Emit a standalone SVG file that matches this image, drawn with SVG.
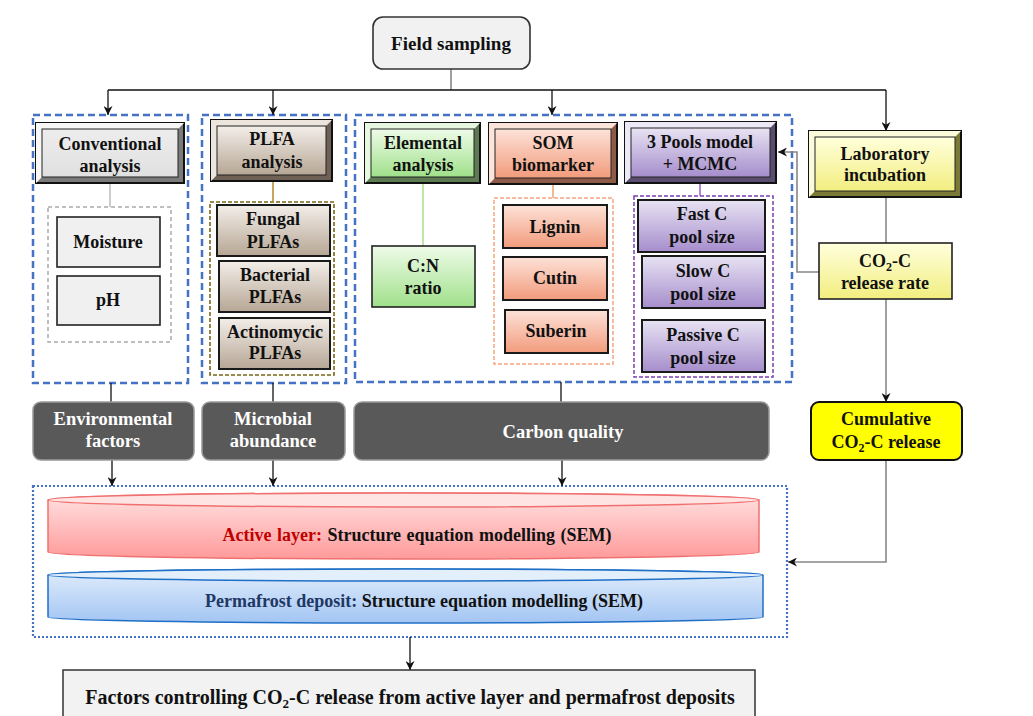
<svg xmlns="http://www.w3.org/2000/svg" width="1033" height="716" viewBox="0 0 1033 716">
<style>
text{font-family:"Liberation Serif","Times New Roman",serif;font-weight:bold;font-size:18px;text-anchor:middle;fill:#111}
.w{fill:#fff}
.grp{fill:none;stroke:#4472C4;stroke-width:2.5;stroke-dasharray:7,4}
.dot{fill:none;stroke:#4472C4;stroke-width:2.2;stroke-dasharray:2,2}
.outer{stroke:#111;stroke-width:2}
.inner{stroke:#222;stroke-width:1}
.sub{stroke:#1a1a1a;stroke-width:2}
.dark{fill:#595959;stroke:#999;stroke-width:1.5}
.ln{fill:none;stroke:#111;stroke-width:1.3}
.gl{fill:none;stroke:#888;stroke-width:1.6}
.arr{marker-end:url(#ah)}
</style>
<defs>
<marker id="ah" viewBox="0 0 10 10" refX="10" refY="5" markerWidth="9" markerHeight="9" markerUnits="userSpaceOnUse" orient="auto">
<path d="M0,0 L10,5 L0,10 L3,5 z" fill="#111"/>
</marker>
<linearGradient id="gGray" x1="0" y1="0" x2="0" y2="1"><stop offset="0" stop-color="#ededed"/><stop offset="1" stop-color="#e0e0e0"/></linearGradient>
<linearGradient id="gBrown" x1="0" y1="0" x2="0" y2="1"><stop offset="0" stop-color="#f3eee9"/><stop offset="1" stop-color="#b6a695"/></linearGradient>
<linearGradient id="gGreen" x1="0" y1="0" x2="0" y2="1"><stop offset="0" stop-color="#effce9"/><stop offset="1" stop-color="#9fe08a"/></linearGradient>
<linearGradient id="gSalmon" x1="0" y1="0" x2="0" y2="1"><stop offset="0" stop-color="#fde2d8"/><stop offset="1" stop-color="#f29b7c"/></linearGradient>
<linearGradient id="gPurple" x1="0" y1="0" x2="0" y2="1"><stop offset="0" stop-color="#e8e3f3"/><stop offset="1" stop-color="#a58dcc"/></linearGradient>
<linearGradient id="gYellow" x1="0" y1="0" x2="0" y2="1"><stop offset="0" stop-color="#ffffdc"/><stop offset="1" stop-color="#f2ee80"/></linearGradient>
<linearGradient id="gRed" x1="0" y1="0" x2="0" y2="1"><stop offset="0" stop-color="#ffe2e2"/><stop offset="1" stop-color="#ff9a9a"/></linearGradient>
<linearGradient id="gBlue" x1="0" y1="0" x2="0" y2="1"><stop offset="0" stop-color="#e2eefc"/><stop offset="1" stop-color="#a3c5f3"/></linearGradient>
</defs>
<rect width="1033" height="716" fill="#fff"/>

<!-- group frames -->
<g id="frames">
<rect class="grp" x="33" y="115" width="155" height="268"/>
<rect class="grp" x="202" y="115" width="144" height="268"/>
<rect class="grp" x="355" y="115" width="437" height="267"/>
<rect x="48" y="207" width="123" height="135" fill="none" stroke="#aaa" stroke-width="1.5" stroke-dasharray="4,3"/>
<rect x="210" y="202" width="124" height="173" fill="none" stroke="#7a6515" stroke-width="1.6" stroke-dasharray="4,2"/>
<rect x="494" y="198" width="119" height="166" fill="none" stroke="#f4a57f" stroke-width="1.5" stroke-dasharray="4,2"/>
<rect x="634" y="196" width="139" height="181" fill="none" stroke="#7a3fb0" stroke-width="1.5" stroke-dasharray="4,2"/>
<rect class="dot" x="33" y="486" width="754" height="151"/>
</g>

<!-- connectors -->
<g id="connectors">
<line class="gl" x1="451" y1="69" x2="451" y2="90"/>
<line class="ln" x1="108" y1="90" x2="886" y2="90"/>
<line class="ln arr" x1="108" y1="90" x2="108" y2="115"/>
<line class="ln arr" x1="273" y1="90" x2="273" y2="115"/>
<line class="ln arr" x1="552" y1="90" x2="552" y2="115"/>
<line class="ln arr" x1="886" y1="90" x2="886" y2="131"/>
<line x1="110" y1="184" x2="110" y2="207" stroke="#bbb" stroke-width="1.5"/>
<line x1="273" y1="181" x2="273" y2="202" stroke="#b5892d" stroke-width="1.5"/>
<line x1="423" y1="183" x2="423" y2="246" stroke="#a8dc90" stroke-width="1.5"/>
<line x1="553" y1="184" x2="553" y2="198" stroke="#f0a070" stroke-width="1.5"/>
<line x1="700" y1="183" x2="700" y2="196" stroke="#9a5fc8" stroke-width="1.5"/>
<line class="gl" x1="886" y1="197" x2="886" y2="243"/>
<polyline class="gl" points="819,272 797,272 797,152 778,152" marker-end="url(#ah)"/>
<line class="gl" x1="886" y1="299" x2="886" y2="402" marker-end="url(#ah)"/>
<polyline class="gl" points="886,460 886,562 788,562" marker-end="url(#ah)"/>
<line class="ln" x1="111" y1="383" x2="111" y2="402"/>
<line class="ln" x1="273" y1="383" x2="273" y2="402"/>
<line class="ln" x1="561" y1="382" x2="561" y2="402"/>
<line class="ln arr" x1="112" y1="460" x2="112" y2="486"/>
<line class="ln arr" x1="273" y1="460" x2="273" y2="486"/>
<line class="ln arr" x1="562" y1="460" x2="562" y2="486"/>
<line class="ln arr" x1="410" y1="637" x2="410" y2="670"/>
</g>

<g id="field-sampling">
<rect x="373" y="17" width="157" height="52" rx="10" fill="#f1f1f1" stroke="#333" stroke-width="1.6"/>
<text x="451" y="50" style="font-size:19px">Field sampling</text>
</g>

<g id="conventional-analysis">
<rect class="outer" x="36" y="123" width="148" height="60" fill="#7a7a7a"/>
<polygon points="36,123 184,123 178,129 42,129 42,177 36,183" fill="#f7f7f7"/>
<rect class="inner" x="42" y="129" width="136" height="48" fill="url(#gGray)"/>
<text x="110" y="150">Conventional</text><text x="110" y="172">analysis</text>
</g>

<g id="plfa-analysis">
<rect class="outer" x="211" y="120" width="121" height="61" fill="#6e6054"/>
<polygon points="211,120 332,120 326,126 217,126 217,175 211,181" fill="#ece5de"/>
<rect class="inner" x="217" y="126" width="109" height="49" fill="url(#gBrown)"/>
<text x="272" y="145">PLFA</text><text x="272" y="168">analysis</text>
</g>

<g id="elemental-analysis">
<rect class="outer" x="365" y="123" width="115" height="60" fill="#5d7a52"/>
<polygon points="365,123 480,123 474,129 371,129 371,177 365,183" fill="#e8f8e0"/>
<rect class="inner" x="371" y="129" width="103" height="48" fill="url(#gGreen)"/>
<text x="423" y="149">Elemental</text><text x="423" y="171">analysis</text>
</g>

<g id="som-biomarker">
<rect class="outer" x="489" y="123" width="128" height="61" fill="#8e5a48"/>
<polygon points="489,123 617,123 611,129 495,129 495,178 489,184" fill="#fde4da"/>
<rect class="inner" x="495" y="129" width="116" height="49" fill="url(#gSalmon)"/>
<text x="553" y="149">SOM</text><text x="553" y="171">biomarker</text>
</g>

<g id="three-pools">
<rect class="outer" x="625" y="122" width="151" height="61" fill="#5a4c6e"/>
<polygon points="625,122 776,122 770,128 631,128 631,177 625,183" fill="#ece8f5"/>
<rect class="inner" x="631" y="128" width="139" height="49" fill="url(#gPurple)"/>
<text x="700" y="148">3 Pools model</text><text x="700" y="170">+ MCMC</text>
</g>

<g id="laboratory-incubation">
<rect class="outer" x="809" y="131" width="152" height="66" fill="#7a7a36"/>
<polygon points="809,131 961,131 955,137 815,137 815,191 809,197" fill="#fbfbdc"/>
<rect class="inner" x="815" y="137" width="140" height="54" fill="url(#gYellow)"/>
<text x="885" y="160">Laboratory</text><text x="885" y="181">incubation</text>
</g>

<g id="moisture"><rect x="57" y="217" width="103" height="50" fill="#f0f0f0" stroke="#222" stroke-width="1.6"/><text x="108" y="248">Moisture</text></g>
<g id="ph"><rect x="57" y="276" width="103" height="49" fill="#f0f0f0" stroke="#222" stroke-width="1.6"/><text x="108" y="306">pH</text></g>

<g id="fungal"><rect class="sub" x="217" y="205" width="113" height="51" fill="url(#gBrown)"/><text x="273" y="225">Fungal</text><text x="273" y="248">PLFAs</text></g>
<g id="bacterial"><rect class="sub" x="219" y="261" width="111" height="51" fill="url(#gBrown)"/><text x="275" y="281">Bacterial</text><text x="275" y="303">PLFAs</text></g>
<g id="actinomycic"><rect class="sub" x="219" y="318" width="111" height="51" fill="url(#gBrown)"/><text x="275" y="338">Actinomycic</text><text x="275" y="359">PLFAs</text></g>

<g id="cn-ratio"><rect x="372" y="246" width="103" height="61" fill="url(#gGreen)" stroke="#222" stroke-width="1.6"/><text x="423" y="272">C:N</text><text x="423" y="294">ratio</text></g>

<g id="lignin"><rect class="sub" x="503" y="205" width="104" height="43" fill="url(#gSalmon)"/><text x="555" y="233">Lignin</text></g>
<g id="cutin"><rect class="sub" x="503" y="257" width="104" height="43" fill="url(#gSalmon)"/><text x="555" y="284">Cutin</text></g>
<g id="suberin"><rect class="sub" x="505" y="310" width="103" height="43" fill="url(#gSalmon)"/><text x="556" y="337">Suberin</text></g>

<g id="fast-c"><rect class="sub" x="638" y="200" width="127" height="52" fill="url(#gPurple)"/><text x="702" y="220">Fast C</text><text x="702" y="243">pool size</text></g>
<g id="slow-c"><rect class="sub" x="642" y="256" width="123" height="52" fill="url(#gPurple)"/><text x="703" y="277">Slow C</text><text x="703" y="300">pool size</text></g>
<g id="passive-c"><rect class="sub" x="642" y="320" width="123" height="52" fill="url(#gPurple)"/><text x="703" y="341">Passive C</text><text x="703" y="364">pool size</text></g>

<g id="co2-release-rate"><rect x="819" y="243" width="133" height="56" fill="url(#gYellow)" stroke="#222" stroke-width="1.6"/>
<text x="885" y="267">CO<tspan font-size="12" dy="4">2</tspan><tspan dy="-4">-C</tspan></text><text x="885" y="289">release rate</text></g>

<g id="cumulative"><rect x="811" y="402" width="151" height="58" rx="8" fill="#ffff00" stroke="#111" stroke-width="2"/>
<text x="886" y="425">Cumulative</text><text x="886" y="448">CO<tspan font-size="12" dy="4">2</tspan><tspan dy="-4">-C release</tspan></text></g>

<g id="environmental-factors"><rect class="dark" x="33" y="402" width="161" height="58" rx="8"/><text class="w" x="113" y="425" style="font-size:18.5px">Environmental</text><text class="w" x="113" y="447" style="font-size:18.5px">factors</text></g>
<g id="microbial-abundance"><rect class="dark" x="202" y="402" width="143" height="58" rx="8"/><text class="w" x="273" y="425" style="font-size:18.5px">Microbial</text><text class="w" x="273" y="447" style="font-size:18.5px">abundance</text></g>
<g id="carbon-quality"><rect class="dark" x="354" y="402" width="415" height="58" rx="8"/><text class="w" x="563" y="438" style="font-size:18.5px">Carbon quality</text></g>

<g id="active-layer-sem">
<path d="M48,500 L48,552 A355.5,7 0 0 0 759,552 L759,500 A355.5,7 0 0 0 48,500 Z" fill="url(#gRed)" stroke="#f07070" stroke-width="1.5"/>
<ellipse cx="403.5" cy="500" rx="355.5" ry="7" fill="#ffe4e4" stroke="#f07070" stroke-width="1.5"/>
<text x="417" y="541" style="font-size:18px;word-spacing:1px"><tspan fill="#c00000">Active layer:</tspan> Structure equation modelling (SEM)</text>
</g>

<g id="permafrost-sem">
<path d="M48,575 L48,617 A357.5,6 0 0 0 763,617 L763,575 A357.5,6 0 0 0 48,575 Z" fill="url(#gBlue)" stroke="#1f6fc6" stroke-width="1.5"/>
<ellipse cx="405.5" cy="575" rx="357.5" ry="6" fill="#e4effc" stroke="#1f6fc6" stroke-width="1.5"/>
<text x="424" y="607" style="font-size:18px"><tspan fill="#1f3864">Permafrost deposit:</tspan> Structure equation modelling (SEM)</text>
</g>

<g id="factors-controlling">
<rect x="63" y="670" width="692" height="60" fill="#f2f2f2" stroke="#333" stroke-width="1.5"/>
<text x="410" y="704" style="font-size:20px">Factors controlling CO<tspan font-size="13" dy="4">2</tspan><tspan dy="-4">-C release from active layer and permafrost deposits</tspan></text>
</g>
</svg>
